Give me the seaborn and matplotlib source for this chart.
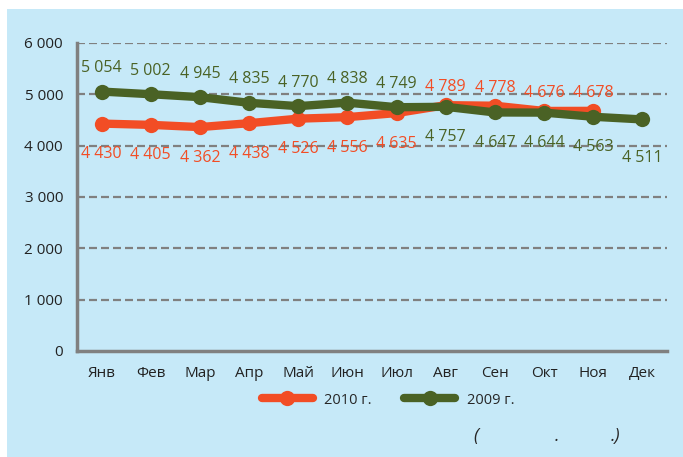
import numpy as np
import pandas as pd
import matplotlib
matplotlib.use("Agg")
import matplotlib.pyplot as plt
import seaborn as sns
from matplotlib.patches import Rectangle

months = ["Янв", "Фев", "Мар", "Апр", "Май", "Июн", "Июл", "Авг", "Сен", "Окт", "Ноя", "Дек"]
y2010 = [4430, 4405, 4362, 4438, 4526, 4556, 4635, 4789, 4778, 4676, 4678, np.nan]
y2009 = [5054, 5002, 4945, 4835, 4770, 4838, 4749, 4757, 4647, 4644, 4563, 4511]
yticks = [0, 1000, 2000, 3000, 4000, 5000, 6000]

BG = "#c6e9f8"
RED = "#f24d25"
GREEN = "#4a6225"
GREY = "#808080"

sns.set_style("white")
plt.rcParams["font.family"] = ["Open Sans", "DejaVu Sans"]

df = pd.DataFrame({
    "month": months * 2,
    "value": y2010 + y2009,
    "year": ["2010 г."] * 12 + ["2009 г."] * 12,
})
df["pos"] = list(range(12)) * 2

fig = plt.figure(figsize=(6.83, 4.57), dpi=100)
fig.patch.set_facecolor("white")
fig.add_artist(Rectangle((7 / 683, 0), 1, 1 - 9 / 457, transform=fig.transFigure,
                         facecolor=BG, edgecolor="none", zorder=-10))
ax = fig.add_axes([77 / 683, 1 - 351 / 457, 590 / 683, 308 / 457])
ax.set_facecolor(BG)

sns.lineplot(data=df, x="pos", y="value", hue="year", hue_order=["2010 г.", "2009 г."],
             palette={"2010 г.": RED, "2009 г.": GREEN}, marker="o", markersize=11,
             markeredgewidth=0, linewidth=6, ax=ax, legend=True)

ax.set_xlim(-0.5, 11.5)
ax.set_ylim(0, 6000)
ax.set_yticks(yticks)
ax.set_yticklabels([f"{v:,}".replace(",", " ") for v in yticks], fontsize=11, color="#222222")
ax.set_xticks(range(12))
ax.set_xticklabels(months, fontsize=11, color="#222222")
ax.set_xticks(np.arange(-0.5, 12, 1), minor=True)
ax.tick_params(axis="x", which="major", length=0, pad=11)
ax.tick_params(axis="x", which="minor", length=4, width=2.5, color=GREY, direction="out")
ax.tick_params(axis="y", length=4, width=2.5, color=GREY, pad=6)
ax.set_xlabel("")
ax.set_ylabel("")

for v in yticks[1:]:
    ax.axhline(v, color=GREY, linestyle=(0, (3.6, 1.8)), linewidth=1.6, zorder=0)

for s in ["top", "right"]:
    ax.spines[s].set_visible(False)
for s in ["left", "bottom"]:
    ax.spines[s].set_color(GREY)
    ax.spines[s].set_linewidth(2.5)

fmt = lambda v: f"{int(v):,}".replace(",", " ")
for i, (a, b) in enumerate(zip(y2010, y2009)):
    if i < 7:
        off_g, off_r = 17, -22
    else:
        off_g, off_r = -22, 13
    if i == 11:
        off_g = -28
    ax.annotate(fmt(b), (i, b), xytext=(0, off_g), textcoords="offset points",
                ha="center", va="center", fontsize=11.5, color=GREEN)
    if not np.isnan(a):
        ax.annotate(fmt(a), (i, a), xytext=(0, off_r), textcoords="offset points",
                    ha="center", va="center", fontsize=11.5, color=RED)

leg = ax.legend(loc="center", bbox_to_anchor=(388 / 683, 1 - 400 / 457),
                bbox_transform=fig.transFigure, ncol=2, frameon=False, fontsize=10.5,
                handlelength=3.5, columnspacing=2.2, title=None)

fig.text(476 / 683, 1 - 436 / 457, "(", fontsize=13, style="italic", ha="center", va="center")
fig.text(557 / 683, 1 - 436 / 457, ".", fontsize=13, style="italic", ha="center", va="center")
fig.text(615 / 683, 1 - 436 / 457, ".)", fontsize=13, style="italic", ha="center", va="center")

fig.savefig("out.png", dpi=100)
